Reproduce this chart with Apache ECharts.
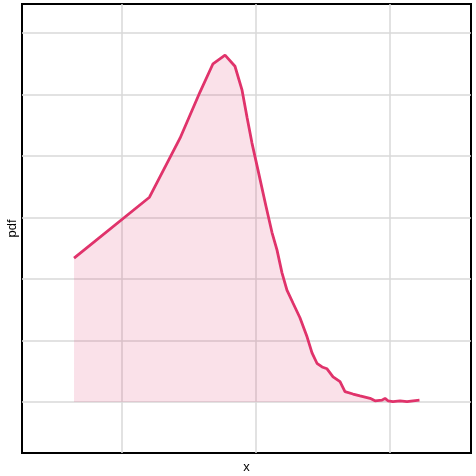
<!DOCTYPE html>
<html>
<head>
<meta charset="utf-8">
<script src="https://cdn.jsdelivr.net/npm/echarts@6/dist/echarts.min.js"></script>
<style>
  html, body { margin: 0; padding: 0; background: #fff; }
  #chart { width: 476px; height: 476px; }
</style>
</head>
<body>
<div id="chart"></div>
<script>
  // density estimate
  var xs = [0.642, 1.205, 1.433, 1.582, 1.679, 1.769, 1.843, 1.896, 1.933, 1.970, 2.015, 2.075,
    2.119, 2.157, 2.194, 2.231, 2.276, 2.328, 2.381, 2.418, 2.455, 2.493, 2.530, 2.575,
    2.627, 2.664, 2.724, 2.776, 2.851, 2.888, 2.940, 2.963, 2.985, 3.022, 3.075, 3.127,
    3.172, 3.220]
  var pdf = [0.234, 0.333, 0.429, 0.504, 0.550, 0.564, 0.546, 0.507, 0.463, 0.421, 0.377, 0.318,
    0.276, 0.247, 0.210, 0.182, 0.161, 0.137, 0.106, 0.080, 0.063, 0.057, 0.054, 0.041,
    0.033, 0.017, 0.013, 0.010, 0.006, 0.002, 0.003, 0.006, 0.002, 0.0005, 0.002, 0.0005,
    0.002, 0.003]
  var xTicks = [1, 2, 3]
  var yTicks = [0, 0.1, 0.2, 0.3, 0.4, 0.5, 0.6]

  var chart = echarts.init(document.getElementById('chart'))
  var font = 'Liberation Sans, Arial, sans-serif'
  chart.setOption({
    animation: false,
    grid: {
      left: 22, top: 4, right: 5, bottom: 23,
      outerBoundsMode: 'none',
      containLabel: false,
      show: true, borderColor: '#000', borderWidth: 2
    },
    xAxis: {
      type: 'value',
      min: 0.2537, max: 3.6045,
      name: 'x', nameLocation: 'middle', nameGap: 8,
      nameTextStyle: { color: '#000', fontSize: 13, fontFamily: font },
      axisLine: { show: false },
      axisTick: { show: false, customValues: xTicks },
      axisLabel: { show: false },
      splitLine: { show: true, lineStyle: { color: '#d9d9d9', width: 1.5 } }
    },
    yAxis: {
      type: 'value',
      min: -0.0829, max: 0.6472,
      name: 'pdf', nameLocation: 'middle', nameGap: 3,
      nameTextStyle: { color: '#000', fontSize: 13, fontFamily: font },
      axisLine: { show: false },
      axisTick: { show: false, customValues: yTicks },
      axisLabel: { show: false },
      splitLine: { show: true, lineStyle: { color: '#d9d9d9', width: 1.5 } }
    },
    series: [{
      type: 'line',
      data: xs.map(function (x, i) { return [x, pdf[i]] }),
      showSymbol: false,
      lineStyle: { color: '#e0336b', width: 2.8 },
      areaStyle: { color: '#e0336b', opacity: 0.15 }
    }]
  })
</script>
</body>
</html>
